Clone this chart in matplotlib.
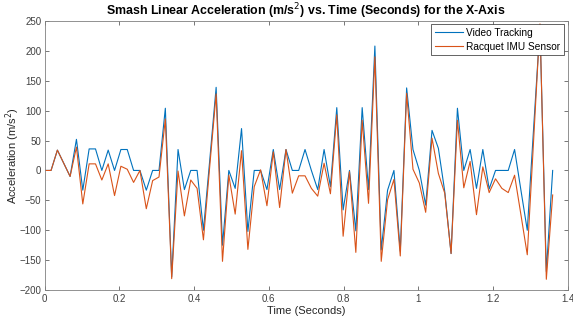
import matplotlib
matplotlib.use("Agg")
import matplotlib.pyplot as plt
import numpy as np

# sample index -> time (s)
step = 0.017
n_samples = 81

video = [0, 0, 34, 12, -10, 52, -33, 36, 36, 0,
         34, 0, 35, 35, 0, 0, -33, 0, 0, 104,
         -178, 35, -32, 0, 0, -100, 18, 139, -125, 0,
         -30, 70, -102, 0, 0, -32, 35, -32, 35, 0,
         0, 35, 0, -32, 35, -27, 105, -66, 0, -101,
         105, -32, 208, -133, -33, 0, -135, 138, 35, 0,
         -58, 67, 37, -35, -139, 104, 0, 35, -30, 35,
         -31, 0, 0, 0, 35, -33, -100, 71, 240, -169,
         0]
imu = [0, 0, 34, 12, -10, 39, -56, 11, 11, -16,
       11, -42, 7, 2, -20, 0, -64, -17, -11, 86,
       -181, -1, -76, -16, -30, -116, 8, 128, -152, -8,
       -73, 33, -132, -27, 1, -59, 31, -62, 35, -38,
       -9, -9, -30, -43, 12, -39, 93, -110, -2, -137,
       84, -55, 190, -152, -49, -15, -143, 129, 2, -21,
       -70, 54, -5, -38, -139, 84, -29, 15, -74, 6,
       -37, -14, -30, -37, -8, -74, -141, 51, 245, -182,
       -41]

time = np.arange(n_samples) * step

plt.rcParams['font.family'] = ['Liberation Sans', 'DejaVu Sans']

fig = plt.figure(figsize=(5.73, 3.27), dpi=100)
ax = fig.add_axes([0.078, 0.113, 0.9126, 0.823])

ax.plot(time, video, color='#0072BD', lw=0.8, label='Video Tracking')
ax.plot(time, imu, color='#D95319', lw=0.8, label='Racquet IMU Sensor')

ax.set_xlim(0, 1.4)
ax.set_ylim(-200, 250)
ax.set_xticks([0, 0.2, 0.4, 0.6, 0.8, 1.0, 1.2, 1.4])
ax.set_xticklabels(['0', '0.2', '0.4', '0.6', '0.8', '1', '1.2', '1.4'])
ax.set_yticks(np.arange(-200, 251, 50))

ax.tick_params(direction='in', top=True, right=True, labelsize=7,
               colors='#404040', length=3, width=0.5, pad=2.5)
for s in ax.spines.values():
    s.set_color('#808080')
    s.set_linewidth(0.6)

ax.set_xlabel('Time (Seconds)', fontsize=8, color='#262626', labelpad=2)
ax.set_ylabel('Acceleration (m/s$^2$)', fontsize=8, color='#262626')
ax.yaxis.set_label_coords(-0.044, 0.5)
ax.set_title('Smash Linear Acceleration (m/s$^2$) vs. Time (Seconds) for the X-Axis',
             fontsize=8.9, fontweight='bold', color='#000000', pad=4)

leg = ax.legend(loc='upper right', fontsize=7.3, fancybox=False, framealpha=1,
                edgecolor='#262626', handlelength=2.8, borderpad=0.35,
                labelspacing=0.35, handletextpad=0.3, borderaxespad=0.35)
leg.get_frame().set_linewidth(0.5)

fig.savefig('out.png', dpi=100)
